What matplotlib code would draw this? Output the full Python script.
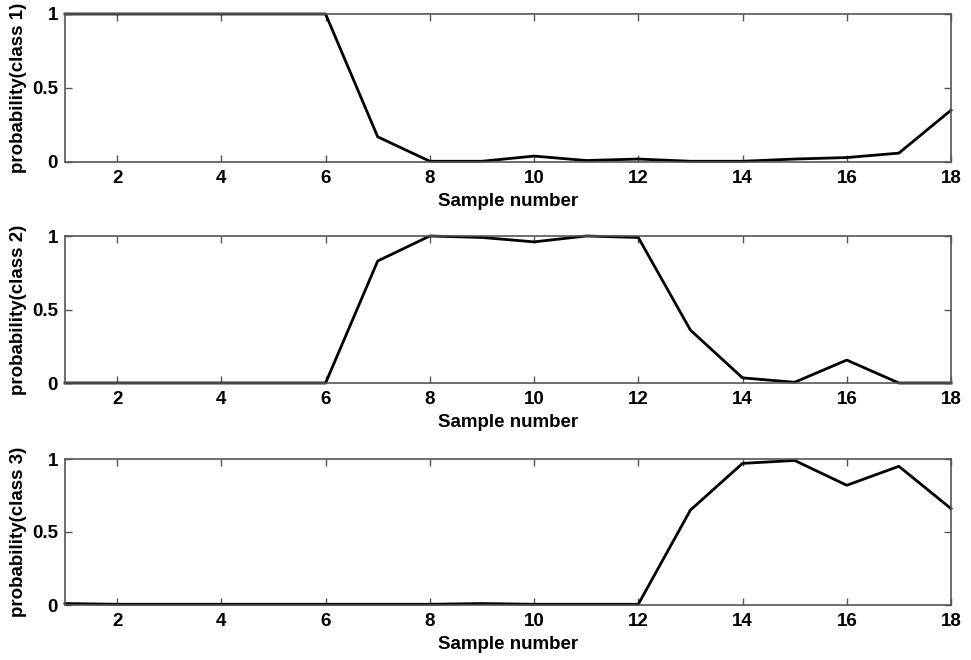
import numpy as np
import matplotlib
matplotlib.use("Agg")
import matplotlib.pyplot as plt

plt.rcParams['font.family'] = ['Liberation Sans', 'DejaVu Sans']

samples = np.arange(1, 19)
class1 = [1, 1, 1, 1, 1, 1, 0.17, 0.005, 0.005, 0.04, 0.01, 0.02, 0.005, 0.005, 0.02, 0.03, 0.06, 0.35]
class2 = [0, 0, 0, 0, 0, 0, 0.83, 1.0, 0.99, 0.96, 1.0, 0.99, 0.36, 0.035, 0.005, 0.156, 0.0, 0.0]
class3 = [0.01, 0.005, 0.005, 0.005, 0.005, 0.005, 0.005, 0.005, 0.01, 0.005, 0.005, 0.005, 0.65, 0.97, 0.99, 0.82, 0.95, 0.66]
ylabels = ["probability(class 1)", "probability(class 2)", "probability(class 3)"]
xticks = [2, 4, 6, 8, 10, 12, 14, 16, 18]
yticks = [0, 0.5, 1]

fig = plt.figure(figsize=(9.71, 6.6), dpi=100)
W, H = 971, 660
tops = [14, 236, 459]
bottoms = [162, 383, 605]
left, right = 65, 951

for series, lab, top, bot in zip([class1, class2, class3], ylabels, tops, bottoms):
    ax = fig.add_axes([left / W, 1 - bot / H, (right - left) / W, (bot - top) / H])
    ax.plot(samples, series, color='black', lw=2.0, clip_on=False)
    ax.set_xlim(1, 18)
    ax.set_ylim(0, 1)
    ax.set_xticks(xticks)
    ax.set_yticks(yticks)
    ax.set_yticklabels(['0', '0.5', '1'])
    ax.tick_params(direction='in', top=True, right=True, length=5, width=1,
                   color='#555555', labelsize=13.5)
    ax.tick_params(axis='x', pad=6)
    ax.tick_params(axis='y', pad=5)
    for t in ax.get_xticklabels() + ax.get_yticklabels():
        t.set_fontweight('bold')
    for s in ax.spines.values():
        s.set_color('#555555')
        s.set_linewidth(1.2)
    ax.set_xlabel("Sample number", fontsize=13.5, fontweight='bold', labelpad=4)
    ax.set_ylabel(lab, fontsize=13.5, fontweight='bold', labelpad=4)

fig.savefig("out.png", dpi=100)
